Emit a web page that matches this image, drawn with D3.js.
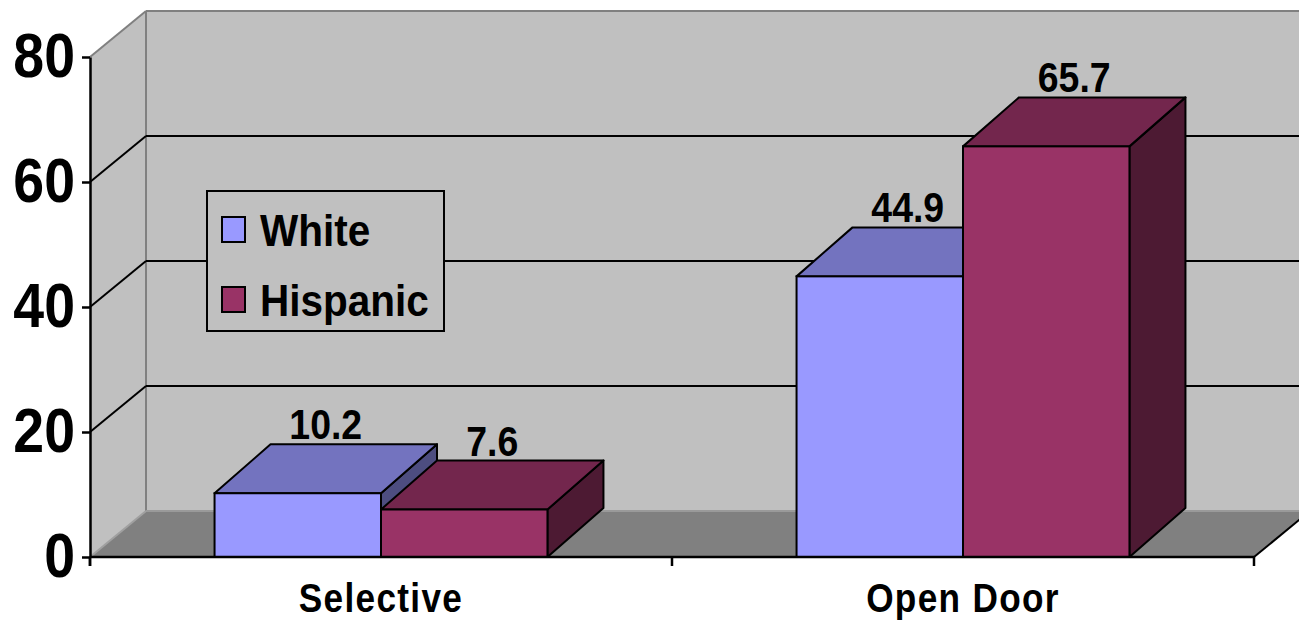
<!DOCTYPE html>
<html>
<head>
<meta charset="utf-8">
<script src="https://cdn.jsdelivr.net/npm/d3@7/dist/d3.min.js"></script>
<style>
  html, body { margin: 0; padding: 0; background: #ffffff; }
  svg { display: block; }
  text { font-family: "Liberation Sans", Arial, sans-serif; font-weight: bold; fill: #000; }
</style>
</head>
<body>
<svg id="chart" width="1299" height="620"></svg>
<script>
// ---- data ----
const categories = ["Selective", "Open Door"];
const seriesNames = ["White", "Hispanic"];
const whiteValues = [10.2, 44.9];
const hispanicValues = [7.6, 65.7];
const yTicks = [0, 20, 40, 60, 80];
const gridValues = [20, 40, 60];

const seriesValues = [whiteValues, hispanicValues];
const frontColors = ["#9999FF", "#993366"];
const topColors = ["#7373BF", "#73264D"];
const sideColors = ["#4D4D80", "#4D1A33"];

const svg = d3.select("#chart");

// ---- scales ----
const y = d3.scaleLinear().domain([0, 80]).range([557, 57]);
const x = d3.scaleBand().domain(categories).range([90, 1254])
  .paddingInner(0.428).paddingOuter(0.214);
const xs = d3.scaleBand().domain(seriesNames).range([0, x.bandwidth()]).padding(0);

const floorDx = 56, floorDy = 46;
const barDx = 56, barDy = 49;
const left = 90, right = 1254, base = y(0);
const wallTop = y(80) - floorDy;

const poly = pts => pts.map(p => p.join(",")).join(" ");

// ---- walls ----
svg.append("polygon")
  .attr("points", poly([[left, y(80)], [left + floorDx, wallTop], [left + floorDx, base - floorDy], [left, base]]))
  .attr("fill", "#C0C0C0");
svg.append("rect")
  .attr("x", left + floorDx).attr("y", wallTop)
  .attr("width", 1299 - left - floorDx + 10).attr("height", base - floorDy - wallTop)
  .attr("fill", "#C0C0C0");
svg.append("line").attr("x1", left).attr("y1", y(80)).attr("x2", left + floorDx).attr("y2", wallTop)
  .attr("stroke", "#808080").attr("stroke-width", 2);
svg.append("line").attr("x1", left + floorDx).attr("y1", wallTop).attr("x2", 1299).attr("y2", wallTop)
  .attr("stroke", "#808080").attr("stroke-width", 2);
svg.append("line").attr("x1", left + floorDx).attr("y1", wallTop).attr("x2", left + floorDx).attr("y2", base - floorDy)
  .attr("stroke", "#808080").attr("stroke-width", 2);

// gridlines
gridValues.forEach(v => {
  svg.append("line").attr("x1", left).attr("y1", y(v)).attr("x2", left + floorDx).attr("y2", y(v) - floorDy)
    .attr("stroke", "#000").attr("stroke-width", 2);
  svg.append("line").attr("x1", left + floorDx).attr("y1", y(v) - floorDy).attr("x2", 1299).attr("y2", y(v) - floorDy)
    .attr("stroke", "#000").attr("stroke-width", 2);
});

// floor
svg.append("polygon")
  .attr("points", poly([[left, base], [right, base], [right + floorDx, base - floorDy], [left + floorDx, base - floorDy]]))
  .attr("fill", "#808080");
svg.append("line").attr("x1", left + floorDx).attr("y1", base - floorDy).attr("x2", 1299).attr("y2", base - floorDy)
  .attr("stroke", "#9a9a9a").attr("stroke-width", 2);
svg.append("line").attr("x1", left).attr("y1", base).attr("x2", left + floorDx).attr("y2", base - floorDy)
  .attr("stroke", "#a0a0a0").attr("stroke-width", 2);
svg.append("line").attr("x1", right).attr("y1", base).attr("x2", right + floorDx).attr("y2", base - floorDy)
  .attr("stroke", "#000").attr("stroke-width", 2);

// ---- bars ----
const barsG = svg.append("g");
categories.forEach((cat, ci) => {
  seriesNames.forEach((s, si) => {
    const v = seriesValues[si][ci];
    const x0 = x(cat) + xs(s);
    const w = xs.bandwidth();
    const yt = y(v);
    const g = barsG.append("g");
    g.append("polygon")
      .attr("points", poly([[x0 + w, yt], [x0 + w + barDx, yt - barDy], [x0 + w + barDx, base - barDy], [x0 + w, base]]))
      .attr("fill", sideColors[si]).attr("stroke", "#000").attr("stroke-width", 2).attr("stroke-linejoin", "round");
    g.append("polygon")
      .attr("points", poly([[x0, yt], [x0 + w, yt], [x0 + w + barDx, yt - barDy], [x0 + barDx, yt - barDy]]))
      .attr("fill", topColors[si]).attr("stroke", "#000").attr("stroke-width", 2).attr("stroke-linejoin", "round");
    g.append("rect")
      .attr("x", x0).attr("y", yt).attr("width", w).attr("height", base - yt)
      .attr("fill", frontColors[si]).attr("stroke", "#000").attr("stroke-width", 2);
  });
});

// data labels
categories.forEach((cat, ci) => {
  seriesNames.forEach((s, si) => {
    const v = seriesValues[si][ci];
    const cx = x(cat) + xs(s) + xs.bandwidth() / 2 + barDx / 2;
    const by = y(v) - barDy - 5;
    svg.append("text")
      .attr("transform", `translate(${cx},${by}) scale(0.87,1)`)
      .attr("text-anchor", "middle")
      .attr("font-size", 43)
      .text(v.toFixed(1));
  });
});

// ---- axes ----
const yAxis = d3.axisLeft(y).tickValues(yTicks).tickSize(8).tickSizeOuter(0).tickFormat(d3.format("d"));
const yg = svg.append("g").attr("transform", `translate(${left},0)`).call(yAxis);
yg.select(".domain").attr("stroke", "#000").attr("stroke-width", 2.5);
yg.selectAll(".tick line").attr("stroke", "#000").attr("stroke-width", 2.5);
yg.selectAll(".tick text")
  .attr("x", null).attr("dy", null)
  .attr("font-size", 63)
  .attr("font-family", "'Liberation Sans', Arial, sans-serif")
  .attr("font-weight", "bold")
  .attr("fill", "#000")
  .attr("text-anchor", "end")
  .attr("transform", "translate(-15,19) scale(0.88,1)");
svg.append("line").attr("x1", left).attr("y1", base).attr("x2", left).attr("y2", base + 9)
  .attr("stroke", "#000").attr("stroke-width", 2.5);

// bottom axis
svg.append("line").attr("x1", left).attr("y1", base).attr("x2", right).attr("y2", base)
  .attr("stroke", "#000").attr("stroke-width", 2.5);
const tickXs = [left, (x(categories[0]) + x.bandwidth() + x(categories[1])) / 2, right];
tickXs.forEach(tx => {
  svg.append("line").attr("x1", tx).attr("y1", base).attr("x2", tx).attr("y2", base + 9)
    .attr("stroke", "#000").attr("stroke-width", 2.5);
});
categories.forEach(cat => {
  svg.append("text")
    .attr("transform", `translate(${x(cat) + x.bandwidth() / 2},612) scale(0.88,1)`)
    .attr("text-anchor", "middle")
    .attr("font-size", 40)
    .attr("letter-spacing", 1.5)
    .text(cat);
});

// ---- legend ----
const lg = svg.append("g");
lg.append("rect").attr("x", 207).attr("y", 191).attr("width", 237).attr("height", 140)
  .attr("fill", "#C0C0C0").attr("stroke", "#000").attr("stroke-width", 2);
seriesNames.forEach((s, i) => {
  const yy = 217 + i * 70;
  lg.append("rect").attr("x", 222).attr("y", yy).attr("width", 23).attr("height", 25)
    .attr("fill", frontColors[i]).attr("stroke", "#000").attr("stroke-width", 2);
  lg.append("text")
    .attr("transform", `translate(260,${yy + 29}) scale(0.9,1)`)
    .attr("font-size", 45)
    .text(s);
});
</script>
</body>
</html>
